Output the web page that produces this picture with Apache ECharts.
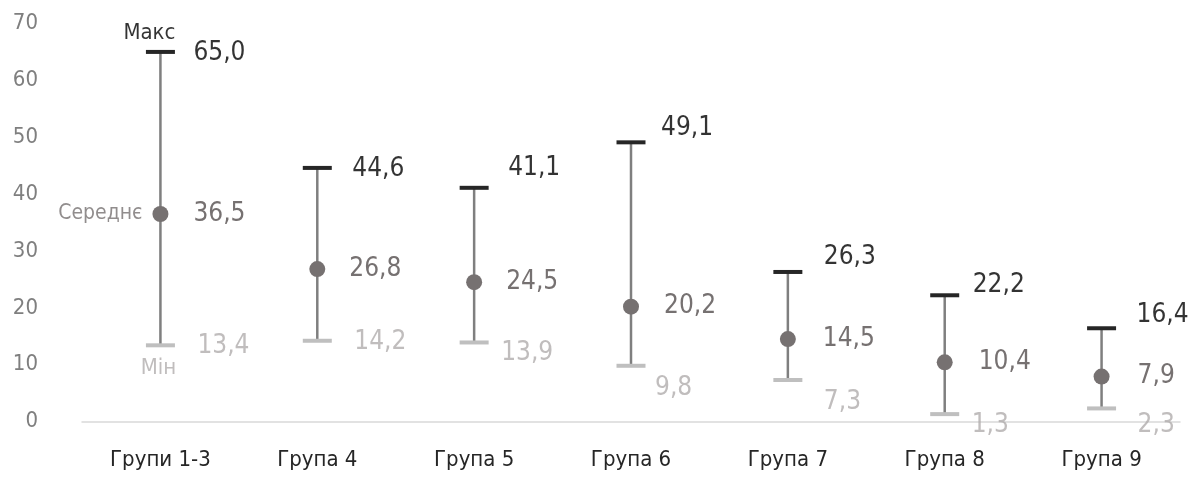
<!DOCTYPE html>
<html>
<head>
<meta charset="utf-8">
<script src="https://cdn.jsdelivr.net/npm/echarts@6/dist/echarts.min.js"></script>
<style>
html,body{margin:0;padding:0;background:#fff;}
#chart{width:1189px;height:477px;}
</style>
</head>
<body>
<div id="chart"></div>
<script>
const categories = ['Групи 1-3', 'Група 4', 'Група 5', 'Група 6', 'Група 7', 'Група 8', 'Група 9'];
const maxValues  = [65.0, 44.6, 41.1, 49.1, 26.3, 22.2, 16.4];
const meanValues = [36.5, 26.8, 24.5, 20.2, 14.5, 10.4, 7.9];
const minValues  = [13.4, 14.2, 13.9, 9.8, 7.3, 1.3, 2.3];
const yTicks = [0, 10, 20, 30, 40, 50, 60, 70];

// label nudges (layout only)
const maxNudge  = [[0,1],[2,1],[1,-20],[-3,-14],[3,-15],[-5,-10],[2,-13]];
const meanNudge = [[0,0],[-1,0],[-1,0],[0,0],[2,0],[1,0],[3,0]];
const minNudge  = [[4,1],[4,1],[-6,11],[-9,22],[3,22],[-6,11],[3,17]];

const FONT = '"DejaVu Sans Condensed", "Liberation Sans Narrow", "Roboto", sans-serif';
const fmt = v => v.toFixed(1).replace('.', ',');
const C_MAX = '#000000', C_MEAN = '#767171', C_MIN = '#b0acac', C_LINE = '#7f7f7f';

function labelItems(values, nudges, color, size, weight) {
  return values.map((v, i) => ({
    value: [i, v],
    label: {
      show: true, position: 'right', distance: 33,
      offset: nudges[i], formatter: fmt(v), color: color,
      fontSize: size, fontWeight: weight, fontFamily: FONT
    }
  }));
}

const chart = echarts.init(document.getElementById('chart'), null, {renderer: 'canvas'});
chart.setOption({
  animation: false,
  grid: {left: 82, right: 9, top: 23.5, bottom: 55.5, containLabel: false},
  xAxis: {
    type: 'category', data: categories,
    axisLine: {show: true, lineStyle: {color: '#d9d9d9', width: 1.5}},
    axisTick: {show: false},
    axisLabel: {color: '#262626', fontSize: 22, fontFamily: FONT, margin: 28}
  },
  yAxis: {
    type: 'value', min: yTicks[0], max: yTicks[yTicks.length - 1], interval: 10,
    axisLine: {show: false}, axisTick: {show: false}, splitLine: {show: false},
    axisLabel: {color: '#7f7f7f', fontSize: 22, fontFamily: FONT, margin: 44}
  },
  series: [
    {
      type: 'custom',
      data: categories.map((c, i) => [i, minValues[i], maxValues[i]]),
      renderItem: function (params, api) {
        const x = api.value(0);
        const pMin = api.coord([x, api.value(1)]);
        const pMax = api.coord([x, api.value(2)]);
        const half = 14.5;
        return {
          type: 'group',
          children: [
            {type: 'line', shape: {x1: pMax[0], y1: pMax[1], x2: pMin[0], y2: pMin[1]},
             style: {stroke: C_LINE, lineWidth: 2.5}},
            {type: 'line', shape: {x1: pMax[0] - half, y1: pMax[1], x2: pMax[0] + half, y2: pMax[1]},
             style: {stroke: '#262626', lineWidth: 4}},
            {type: 'line', shape: {x1: pMin[0] - half, y1: pMin[1], x2: pMin[0] + half, y2: pMin[1]},
             style: {stroke: '#bfbfbf', lineWidth: 4}}
          ]
        };
      },
      z: 2
    },
    {
      type: 'scatter', symbol: 'circle', symbolSize: 16,
      itemStyle: {color: C_MEAN, opacity: 1},
      data: labelItems(meanValues, meanNudge, C_MEAN, 26, 'normal').map(d => {
        d.label.distance = 25; return d;
      }),
      z: 3
    },
    {
      type: 'scatter', symbolSize: 0, silent: true,
      data: labelItems(maxValues, maxNudge, C_MAX, 26, 'normal'), z: 4
    },
    {
      type: 'scatter', symbolSize: 0, silent: true,
      data: labelItems(minValues, minNudge, C_MIN, 26, 'normal'), z: 4
    },
    {
      type: 'scatter', symbolSize: 0, silent: true, z: 4,
      data: [
        {value: [0, maxValues[0]], label: {show: true, position: 'top', distance: 8, offset: [-11, 0],
          formatter: 'Макс', color: C_MAX, fontSize: 22, fontFamily: FONT}},
        {value: [0, meanValues[0]], label: {show: true, position: 'left', distance: 18, offset: [0, 0],
          formatter: 'Середнє', color: C_MEAN, fontSize: 21, fontFamily: FONT}},
        {value: [0, minValues[0]], label: {show: true, position: 'bottom', distance: 12, offset: [-2, 0],
          formatter: 'Мін', color: C_MIN, fontSize: 22, fontFamily: FONT}}
      ]
    }
  ]
});
</script>
</body>
</html>
